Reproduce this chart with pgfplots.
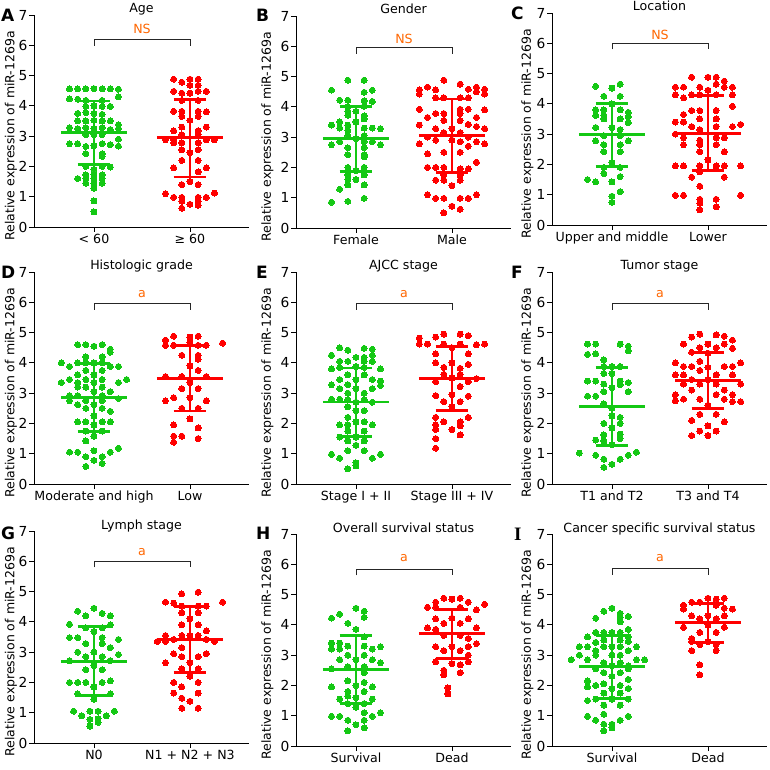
\documentclass[border=0pt]{standalone}
\usepackage{fontspec}
\setmainfont{DejaVu Sans}
\newfontfamily\serifface{Liberation Serif}
\usepackage{pgfplots}
\pgfplotsset{compat=1.18}
\definecolor{dgreen}{RGB}{20,200,20}
\definecolor{dred}{RGB}{255,0,0}
\definecolor{ann}{RGB}{255,102,0}
\newcommand{\tf}{\fontsize{12.6}{14}\selectfont}
\pgfplotsset{
 panel/.style={
  scale only axis, width=215pt, height=212pt,
  xmin=0.375, xmax=2.615, ymin=0, ymax=7,
  axis x line*=bottom, axis y line*=left,
  axis line style={line width=0.9pt},
  xtick={1,2}, ytick={0,1,2,3,4,5,6,7},
  major tick length=5pt, tick align=outside,
  tick style={line width=0.9pt, black},
  /pgf/number format/assume math mode=true,
  yticklabel style={font=\fontsize{13.8}{14}\selectfont, inner sep=1.5pt},
  xticklabel style={font=\tf, inner sep=2pt},
  clip=false, anchor=south west,
 },
 gd/.style={only marks, mark=*, mark size=3.0pt, color=dgreen, mark options={draw=dgreen, fill=dgreen, line width=0pt}},
 rd/.style={only marks, mark=*, mark size=3.0pt, color=dred, mark options={draw=dred, fill=dred, line width=0pt}},
}
\newcommand{\gmsd}[3]{%
 \addplot[dgreen, line width=2.8pt, forget plot] coordinates {(0.656,#1) (1.344,#1)};
 \addplot[dgreen, line width=2.8pt, forget plot] coordinates {(1,#2) (1,#3)};
 \addplot[dgreen, line width=2.8pt, forget plot] coordinates {(0.83,#2) (1.17,#2)};
 \addplot[dgreen, line width=2.8pt, forget plot] coordinates {(0.83,#3) (1.17,#3)};
}
\newcommand{\rmsd}[3]{%
 \addplot[dred, line width=2.8pt, forget plot] coordinates {(1.656,#1) (2.344,#1)};
 \addplot[dred, line width=2.8pt, forget plot] coordinates {(2,#2) (2,#3)};
 \addplot[dred, line width=2.8pt, forget plot] coordinates {(1.83,#2) (2.17,#2)};
 \addplot[dred, line width=2.8pt, forget plot] coordinates {(1.83,#3) (2.17,#3)};
}
\newcommand{\brk}[4]{%
 \draw[line width=0.9pt, black!85] (axis cs:1,#2) -- (axis cs:1,#1) -- (axis cs:2,#1) -- (axis cs:2,#2);
 \node[text=ann, font=\tf, inner sep=0pt] at (axis cs:1.5,#3) {#4};
}
\begin{document}
\begin{tikzpicture}[x=1pt,y=1pt]
\useasboundingbox (0,0) rectangle (770,769);
% ---------------- A
\begin{axis}[panel, at={(34pt,542pt)}, xticklabels={{< 60},{≥ 60}}]
\addplot[gd] table[x expr=1+0.085*\thisrow{k}, y=y, row sep=\\]{k y\\
-3 4.56\\ -2 4.56\\ -1 4.56\\ 0 4.57\\ 1 4.56\\ 2 4.56\\ 3 4.55\\
-3 4.23\\ -2 4.22\\ -1 4.18\\ 1 4.18\\ 3 4.3\\
-1 3.98\\ 0 4.0\\ 1 3.98\\ 2 3.98\\
-2 3.75\\ -1 3.78\\ 0 3.75\\ 1 3.72\\
-2 3.5\\ -1 3.5\\ 0 3.52\\ 1 3.5\\ 2 3.5\\ 3 3.38\\
-3 3.28\\ -2 3.25\\ -1 3.28\\ 0 3.25\\ 1 3.28\\ 2 3.22\\ 3 3.25\\
-1 3.05\\ 0 3.05\\ 1 3.05\\ 3 2.9\\
-3 2.75\\ -2 2.75\\ 1 2.75\\ 2 2.72\\ -1 2.66\\ 0 2.68\\ 3 2.67\\
-1 2.42\\ 1 2.42\\ 1 2.33\\ -1 2.0\\ 1 2.0\\ 2 1.98\\ 0 1.9\\
-1 1.72\\ 0 1.72\\ 1 1.72\\ -2 1.6\\ -1 1.6\\ 0 1.6\\ 1 1.6\\
-1 1.45\\ 0 1.45\\ 1 1.45\\ 0 1.28\\ 0 0.86\\ 0 0.5\\
};
\addplot[rd] table[x expr=2+0.085*\thisrow{k}, y=y, row sep=\\]{k y\\
-2 4.88\\ 0 4.88\\ 1 4.88\\ -1 4.78\\ 0 4.68\\ 1 4.68\\ -2 4.48\\ 1 4.48\\ 2 4.48\\ -1 4.42\\ 0 4.42\\ -1 4.18\\ 1 4.18\\
-2 3.82\\ -1 3.82\\ 1 3.82\\ 2 3.8\\ -1 3.65\\ 1 3.65\\ 0 3.52\\ -1 3.3\\ 2 3.3\\ -2 3.18\\ 1 3.18\\ -1 3.05\\ 1 3.05\\
-3 2.88\\ -2 2.88\\ 2 2.88\\ 3 2.88\\ -2 2.78\\ -1 2.78\\ 1 2.78\\ -1 2.55\\ 1 2.55\\ 0 2.45\\ -1 2.2\\ 1 2.2\\
-2 1.95\\ 2 1.95\\ 1 1.82\\ 0 1.5\\ -1 1.4\\ 1 1.4\\ -3 1.1\\ 3 1.12\\ -2 0.98\\ -1 0.98\\ 1 0.98\\ 2 0.98\\
-1 0.85\\ 1 0.85\\ 0 0.75\\ 1 0.72\\ -1 0.62\\
};
\gmsd{3.11}{2.07}{4.16}
\rmsd{2.95}{1.65}{4.21}
\brk{6.19}{5.99}{6.55}{NS}
\end{axis}
% ---------------- B
\begin{axis}[panel, at={(296pt,541pt)}, xticklabels={Female,Male}]
\addplot[gd] table[x expr=1+0.085*\thisrow{k}, y=y, row sep=\\]{k y\\
-1 4.88\\ 1 4.88\\ -3 4.55\\ 2 4.55\\ 1 4.48\\ -2 4.22\\ -1 4.22\\ 1 4.2\\ 2 4.18\\ -1 4.0\\ 1 4.02\\
-1 3.85\\ 0 3.85\\ -1 3.72\\ 1 3.7\\ 1 3.6\\ -2 3.5\\ 0 3.5\\ -3 3.4\\ -1 3.4\\
-2 3.3\\ 1 3.3\\ 2 3.3\\ 3 3.28\\ -1 3.22\\ -1 3.05\\ 1 3.05\\ 0 2.95\\ -2 2.85\\ 1 2.85\\ 2 2.85\\
-3 2.75\\ 3 2.75\\ -1 2.65\\ 1 2.65\\ -1 2.42\\ 1 2.42\\ 1 2.35\\ -1 2.0\\ 1 2.0\\ 0 1.9\\ -1 1.75\\ 1 1.75\\ -1 1.6\\ 0 1.6\\
-1 1.42\\ 1 1.42\\ -2 1.28\\ 1 0.98\\ -1 0.88\\ -3 0.85\\
};
\addplot[rd] table[x expr=2+0.085*\thisrow{k}, y=y, row sep=\\]{k y\\
-1 4.88\\ 1 4.75\\ -3 4.65\\ 3 4.65\\ -4 4.56\\ -2 4.56\\ 2 4.58\\ 4 4.58\\ 3 4.5\\ -4 4.42\\ 4 4.42\\
-2 4.3\\ -1 4.3\\ 1 4.3\\ 2 4.3\\ -4 3.92\\ 1 3.92\\ 2 3.92\\ 4 3.9\\ -2 3.78\\ -1 3.78\\ 1 3.78\\
-3 3.65\\ 3 3.65\\ -1 3.55\\ 1 3.55\\ -4 3.4\\ 2 3.42\\ 3 3.35\\ -2 3.28\\ 0 3.28\\ 4 3.28\\ -1 3.15\\ 1 3.15\\
-3 3.0\\ 2 3.0\\ -2 2.9\\ 0 2.9\\ 1 2.85\\ 3 2.85\\ -4 2.78\\ 4 2.78\\ 2 2.7\\ -1 2.5\\ 1 2.5\\ -3 2.45\\
3 2.17\\ -3 2.0\\ -2 2.0\\ -1 2.0\\ 1 1.95\\ 2 1.95\\ -1 1.75\\ 1 1.75\\ -2 1.58\\ -1 1.58\\ 1 1.58\\ 0 1.4\\
-3 1.1\\ 3 1.1\\ -2 0.98\\ -1 0.98\\ 1 0.98\\ 2 0.98\\ 0 0.72\\ 1 0.62\\ -1 0.5\\
};
\gmsd{2.95}{1.86}{4.02}
\rmsd{3.05}{1.84}{4.26}
\brk{5.96}{5.76}{6.25}{NS}
\end{axis}
% ---------------- C
\begin{axis}[panel, at={(552pt,544pt)}, xticklabels={Upper and middle,Lower}]
\addplot[gd] table[x expr=1+0.085*\thisrow{k}, y=y, row sep=\\]{k y\\
1 4.65\\ -2 4.58\\ 0 4.52\\ -1 4.25\\ 1 4.25\\ 0 4.0\\ -2 3.8\\ -1 3.8\\ 1 3.8\\ 2 3.72\\ -2 3.62\\ -1 3.5\\ 1 3.5\\ 2 3.38\\
-2 3.22\\ 0 3.22\\ 1 3.15\\ -1 2.95\\ 1 2.95\\ -2 2.78\\ 2 2.78\\ -1 2.65\\ 1 2.65\\ -1 2.42\\ 1 2.42\\ 0 2.05\\
-1 1.9\\ 1 1.9\\ -1 1.7\\ 1 1.6\\ -3 1.5\\ -2 1.42\\ 0 1.42\\ 1 1.1\\ 0 0.95\\ 0 0.75\\ 2 3.58\\ -1 3.62\\
};
\addplot[rd] table[x expr=2+0.085*\thisrow{k}, y=y, row sep=\\]{k y\\
-2 4.88\\ 0 4.88\\ 1 4.88\\ 2 4.75\\ 1 4.65\\ -4 4.55\\ -3 4.55\\ -1 4.55\\ 2 4.55\\ 3 4.55\\ 0 4.45\\
-4 4.3\\ -2 4.3\\ -1 4.3\\ 1 4.3\\ 3 4.3\\ -3 4.2\\ 3 3.92\\ -2 3.78\\ -1 3.78\\ 1 3.78\\ -3 3.65\\
-1 3.5\\ 1 3.5\\ -4 3.4\\ -3 3.4\\ 4 3.32\\ -2 3.25\\ 1 3.25\\ 3 3.25\\ -1 3.15\\ -4 3.0\\
-3 2.88\\ 1 2.88\\ 2 2.88\\ -1 2.8\\ -3 2.65\\ -1 2.65\\ 1 2.65\\ -1 2.42\\ 2 2.42\\ 0 2.15\\
-4 1.95\\ -3 1.95\\ -1 1.95\\ 1 1.95\\ 2 1.95\\ 4 1.95\\ -1 1.75\\ -2 1.58\\ 2 1.58\\ -1 1.28\\
-4 0.98\\ -3 0.98\\ 4 0.98\\ -1 0.85\\ 1 0.85\\ -1 0.72\\ 1 0.6\\ -1 0.5\\
};
\gmsd{2.98}{1.93}{4.02}
\rmsd{3.03}{1.80}{4.27}
\brk{6.0}{5.8}{6.27}{NS}
\end{axis}
% ---------------- D
\begin{axis}[panel, at={(34pt,285pt)}, xticklabels={Moderate and high,Low}]
\addplot[gd] table[x expr=1+0.085*\thisrow{k}, y=y, row sep=\\]{k y\\
-2 4.6\\ -1 4.6\\ 1 4.6\\ 0 4.55\\ 2 4.45\\ 2 4.35\\ -1 4.2\\ 1 4.2\\
-4 4.0\\ -2 4.0\\ -1 4.0\\ 0 4.0\\ 1 4.0\\ -3 3.88\\ 2 3.88\\ 3 3.88\\ -1 3.75\\ 1 3.75\\ -2 3.6\\ 0 3.6\\
-3 3.45\\ -1 3.45\\ 1 3.45\\ 4 3.45\\ -4 3.35\\ -2 3.35\\ 0 3.35\\ 3 3.35\\ -2 3.2\\ -1 3.2\\ 1 3.2\\
0 3.05\\ 2 3.05\\ -3 2.92\\ -2 2.92\\ 1 2.92\\ 3 2.82\\ -3 2.75\\ -1 2.75\\ 1 2.75\\ -2 2.62\\ 0 2.62\\
-1 2.5\\ 1 2.5\\ 2 2.4\\ 0 2.25\\ -2 2.05\\ -1 2.05\\ 1 2.05\\ 2 2.05\\ 0 1.95\\ -1 1.75\\ 1 1.75\\
0 1.58\\ -1 1.42\\ 3 1.18\\ 0 1.1\\ -3 1.05\\ -2 1.05\\ 2 1.05\\ -1 0.9\\ 1 0.9\\ 0 0.78\\ 1 0.68\\ -1 0.58\\
};
\addplot[rd] table[x expr=2+0.085*\thisrow{k}, y=y, row sep=\\]{k y\\
-2 4.88\\ 1 4.88\\ 0 4.85\\ -3 4.75\\ 0 4.68\\ 4 4.65\\ -3 4.58\\ -2 4.58\\ 1 4.58\\ 2 4.58\\
-1 4.25\\ 1 4.25\\ 1 4.12\\ 0 3.9\\ 1 3.75\\ -3 3.55\\ -1 3.55\\ 2 3.55\\ 0 3.35\\ -1 3.15\\ 1 3.15\\
-2 2.85\\ 0 2.85\\ -3 2.75\\ 2 2.75\\ -1 2.5\\ 1 2.5\\ 0 2.15\\ -2 1.95\\ 1 1.85\\ -2 1.58\\ -1 1.58\\ 1 1.5\\ -2 1.38\\
};
\gmsd{2.85}{1.73}{3.97}
\rmsd{3.49}{2.41}{4.58}
\brk{5.96}{5.76}{6.27}{a}
\end{axis}
% ---------------- E
\begin{axis}[panel, at={(296pt,285pt)}, xticklabels={Stage I + II,Stage III + IV}]
\addplot[gd] table[x expr=1+0.085*\thisrow{k}, y=y, row sep=\\]{k y\\
-2 4.5\\ 1 4.48\\ -1 4.42\\ 2 4.45\\ -3 4.25\\ 2 4.25\\ 0 4.18\\ 1 4.18\\ -2 4.05\\ -1 4.05\\ 1 4.05\\ 2 4.05\\
-2 3.85\\ 0 3.88\\ 1 3.85\\ -3 3.8\\ 3 3.8\\ -1 3.6\\ 1 3.6\\ -2 3.45\\ 0 3.45\\ 2 3.45\\ 3 3.4\\
-3 3.28\\ -1 3.28\\ 3 3.25\\ -2 3.15\\ 0 3.15\\ 2 3.15\\ -1 3.0\\ 1 3.0\\ -3 2.8\\ -2 2.8\\ -1 2.78\\ 1 2.78\\
0 2.7\\ 2 2.7\\ -1 2.55\\ 0 2.42\\ 1 2.42\\ -1 2.2\\ 0 2.05\\ 1 2.05\\ -2 1.95\\ -1 1.95\\ 2 1.95\\
-1 1.75\\ 1 1.75\\ -2 1.55\\ 0 1.55\\ -1 1.42\\ 1 1.42\\ 0 1.28\\ -1 1.1\\ 1 1.1\\ -3 0.98\\ 3 0.98\\
-2 0.85\\ 2 0.85\\ 0 0.7\\ -1 0.5\\ 0 0.6\\
};
\addplot[rd] table[x expr=2+0.085*\thisrow{k}, y=y, row sep=\\]{k y\\
-1 4.95\\ 1 4.95\\ -2 4.85\\ 2 4.9\\ -4 4.82\\ -4 4.62\\ -3 4.62\\ -1 4.62\\ 1 4.62\\ 3 4.6\\ 4 4.62\\ 0 4.5\\
-2 4.3\\ 2 4.3\\ -2 4.0\\ 0 4.0\\ 2 3.95\\ -1 3.85\\ 1 3.82\\ -1 3.62\\ 1 3.62\\ 0 3.5\\ 3 3.48\\
-2 3.38\\ 2 3.38\\ 1 3.22\\ -2 2.92\\ 0 2.95\\ 2 2.9\\ -1 2.72\\ 1 2.72\\ 0 2.55\\ -2 2.2\\ 2 2.2\\
-1 2.05\\ 1 2.05\\ -2 1.95\\ 1 1.92\\ -2 1.8\\ 0 1.8\\ 1 1.62\\ -2 1.5\\ -2 1.18\\
};
\gmsd{2.71}{1.56}{3.83}
\rmsd{3.48}{2.42}{4.55}
\brk{5.95}{5.75}{6.27}{a}
\end{axis}
% ---------------- F
\begin{axis}[panel, at={(552pt,285pt)}, xticklabels={T1 and T2,T3 and T4}]
\addplot[gd] table[x expr=1+0.085*\thisrow{k}, y=y, row sep=\\]{k y\\
-3 4.62\\ -2 4.62\\ 1 4.62\\ 2 4.55\\ 2 4.4\\ -3 4.28\\ -2 4.3\\ -1 4.1\\ -1 3.88\\ 0 3.88\\ 1 3.88\\
-1 3.65\\ 0 3.65\\ -3 3.4\\ -2 3.4\\ 1 3.4\\ 2 3.35\\ -1 3.3\\ 1 3.28\\ 0 3.18\\ -1 3.05\\ 2 3.05\\
-3 2.9\\ -2 2.9\\ -1 2.65\\ 0 2.5\\ 0 2.25\\ -1 2.0\\ 0 1.85\\ -1 1.62\\ 1 1.65\\ 1 1.5\\
-2 1.45\\ -1 1.42\\ 0 1.3\\ -4 1.02\\ 3 1.05\\ -2 0.95\\ 2 0.95\\ -1 0.82\\ 1 0.82\\ 0 0.65\\ -1 0.55\\ 1 2.0\\ 1 2.2\\
};
\addplot[rd] table[x expr=2+0.085*\thisrow{k}, y=y, row sep=\\]{k y\\
-1 4.95\\ 1 4.92\\ -2 4.85\\ 2 4.88\\ 3 4.75\\ -3 4.62\\ 0 4.62\\ 2 4.62\\ -1 4.5\\ 1 4.5\\ 3 4.48\\
-2 4.35\\ 0 4.32\\ -4 4.0\\ -1 4.05\\ 4 4.0\\ -3 3.88\\ -2 3.88\\ 2 3.88\\ 3 3.88\\ 0 3.85\\ -1 3.75\\
-4 3.6\\ -3 3.6\\ 1 3.6\\ 3 3.6\\ -2 3.45\\ 0 3.45\\ -3 3.3\\ -1 3.3\\ 1 3.3\\ 4 3.3\\ -2 3.1\\ 2 3.1\\
-4 2.95\\ 1 2.95\\ 3 2.95\\ -3 2.8\\ -1 2.8\\ 2 2.8\\ 3 2.72\\ 4 2.72\\ -4 2.75\\ 0 2.6\\ -1 2.3\\ 1 2.3\\
-2 2.1\\ 2 2.05\\ 0 1.92\\ -1 1.75\\ 1 1.75\\ -2 1.6\\ 0 1.6\\
};
\gmsd{2.55}{1.27}{3.84}
\rmsd{3.42}{2.49}{4.35}
\brk{5.95}{5.75}{6.27}{a}
\end{axis}
% ---------------- G
\begin{axis}[panel, at={(34pt,26pt)}, xticklabels={N0,N1 + N2 + N3}]
\addplot[gd] table[x expr=1+0.085*\thisrow{k}, y=y, row sep=\\]{k y\\
0 4.45\\ -2 4.35\\ 1 4.28\\ -1 4.2\\ 2 4.2\\ -3 3.92\\ 2 3.9\\ -1 3.8\\ 1 3.8\\ 0 3.68\\ -3 3.48\\ -2 3.48\\ 1 3.48\\ 3 3.42\\
-1 3.28\\ 1 3.28\\ 2 3.15\\ -2 3.0\\ 0 3.0\\ 3 2.92\\ -1 2.85\\ 1 2.85\\ -3 2.72\\ 2 2.72\\ 0 2.55\\
-1 2.42\\ 1 2.42\\ 2 2.05\\ -3 2.0\\ -2 2.0\\ -1 2.0\\ 1 2.0\\ 0 1.85\\ -2 1.62\\ 2 1.62\\ 0 1.45\\
-2.5 1.05\\ -0.5 1.05\\ 0.5 1.05\\ 2.5 1.05\\ -1.5 0.9\\ 1.5 0.9\\ -0.5 0.78\\ 0.5 0.8\\ 0.5 0.68\\ -0.5 0.56\\
};
\addplot[rd] table[x expr=2+0.085*\thisrow{k}, y=y, row sep=\\]{k y\\
1 4.98\\ -1 4.92\\ -3 4.65\\ 4 4.65\\ -2 4.62\\ -1 4.52\\ 1 4.52\\ 2 4.52\\ -1 4.3\\ 1 4.3\\ 0 4.1\\ -1 3.9\\ 1 3.9\\ 2 3.7\\
-3 3.55\\ -1 3.55\\ 0 3.55\\ 1 3.55\\ -2 3.42\\ 2 3.42\\ -4 3.35\\ -3 3.35\\ 3 3.35\\ -1 3.15\\ -2 2.95\\ 2 2.95\\
-1 2.85\\ 1 2.85\\ -3 2.65\\ 0 2.65\\ -1 2.45\\ 1 2.45\\ 0 2.2\\ -2 2.0\\ 1 2.0\\ -1 1.85\\ -2 1.65\\ 1 1.65\\ -1 1.48\\ 0 1.38\\ -1 1.15\\ 1 1.15\\
};
\gmsd{2.69}{1.57}{3.84}
\rmsd{3.42}{2.34}{4.50}
\brk{6.0}{5.8}{6.3}{a}
\end{axis}
% ---------------- H
\begin{axis}[panel, at={(296pt,23pt)}, xticklabels={Survival,Dead}]
\addplot[gd] table[x expr=1+0.085*\thisrow{k}, y=y, row sep=\\]{k y\\
0 4.55\\ 1 4.45\\ -2 4.35\\ -3 4.22\\ 1 4.25\\ -1 4.05\\ 0 3.85\\ 1 3.6\\ -3 3.4\\ -2 3.4\\ -1 3.3\\ 1 3.3\\ 3 3.28\\
-3 3.2\\ -2 3.2\\ 2 3.2\\ -1 3.0\\ 1 3.0\\ -2 2.85\\ 0 2.85\\ 2 2.85\\ 3 2.75\\ -1 2.62\\ 1 2.62\\ -3 2.55\\
1 2.42\\ -1 2.15\\ 0 2.0\\ -3 1.95\\ 2 1.95\\ -1 1.8\\ 1 1.8\\ 0 1.6\\ -2 1.55\\ 2 1.55\\ -1 1.4\\ 1 1.4\\ 0 1.28\\
1 1.1\\ 3 1.1\\ -3 0.98\\ -2 0.98\\ 2 0.98\\ -1 0.85\\ 1 0.85\\ 0 0.7\\ 1 0.6\\ -1 0.5\\ 1 2.1\\ -1 1.65\\
};
\addplot[rd] table[x expr=2+0.085*\thisrow{k}, y=y, row sep=\\]{k y\\
-1 4.88\\ 1 4.88\\ 0 4.85\\ -2 4.75\\ 2 4.75\\ 4 4.68\\ -3 4.58\\ -2 4.58\\ 1 4.58\\ 3 4.5\\
-2 4.2\\ 0 4.22\\ 2 4.2\\ -1 4.05\\ 1 4.05\\ -3 3.9\\ 3 3.9\\ -2 3.85\\ -1 3.65\\ 1 3.65\\ 2 3.55\\
3 3.38\\ -2 3.28\\ 0 3.28\\ 2 3.28\\ -1 3.15\\ 1 3.15\\ -2 2.78\\ 2 2.78\\ 0 2.72\\ 1 2.68\\ -1 2.5\\ 1 2.42\\
-1 2.35\\ -0.5 1.92\\ -0.5 1.72\\ 2 3.0\\
};
\gmsd{2.53}{1.41}{3.65}
\rmsd{3.71}{2.89}{4.52}
\brk{5.83}{5.63}{6.19}{a}
\end{axis}
% ---------------- I
\begin{axis}[panel, at={(552pt,23pt)}, xticklabels={Survival,Dead}]
\addplot[gd] table[x expr=1+0.085*\thisrow{k}, y=y, row sep=\\]{k y\\
0 4.55\\ -1 4.45\\ 1 4.38\\ 2 4.28\\ -2 4.22\\ 1 4.1\\ 2 3.85\\ -2 3.75\\ -1 3.75\\ 0 3.75\\ 1 3.75\\ -3 3.6\\ 2 3.6\\
-1 3.5\\ 1 3.5\\ -4 3.28\\ -3 3.28\\ -1 3.28\\ 0 3.28\\ 1 3.28\\ 3 3.28\\ -2 3.15\\ 2 3.15\\
-4 3.0\\ -2 3.0\\ 0 3.0\\ 1 3.0\\ -5 2.85\\ -3 2.85\\ 3 2.85\\ 4 2.85\\ -1 2.75\\ 1 2.75\\ 0 2.65\\ 2 2.65\\
-2 2.55\\ 2 2.55\\ -1 2.42\\ 1 2.42\\ 0 2.3\\ -3 2.15\\ 2 2.2\\ -2 2.0\\ 1 2.0\\ 0 1.9\\ 2 1.9\\ -1 1.75\\ 1 1.75\\
-2 1.55\\ 0 1.55\\ 2 1.55\\ -3 1.5\\ -1 1.35\\ 1 1.35\\ -1 1.05\\ -3 0.98\\ 2 0.98\\ -2 0.85\\ 1 0.85\\ -1 0.72\\ 0 0.72\\ 0 0.6\\ -1 0.5\\
-3 1.95\\ -1 2.05\\ 2 3.45\\ -2 3.42\\ 1 4.25\\
};
\addplot[rd] table[x expr=2+0.085*\thisrow{k}, y=y, row sep=\\]{k y\\
0 4.88\\ 2 4.88\\ 1 4.85\\ -2 4.75\\ -1 4.75\\ -3 4.65\\ 1 4.65\\ -3 4.52\\ 2 4.55\\ 3 4.52\\
-2 4.3\\ 0 4.3\\ 2 4.3\\ -1 4.2\\ 1 4.2\\ 0 4.0\\ -3 3.92\\ 2 3.92\\ -1 3.75\\ 1 3.75\\ -2 3.55\\ -2 3.45\\ 0 3.45\\
-1 3.35\\ 1 3.35\\ -2 3.15\\ 1 3.15\\ -1 2.68\\ -1 2.35\\
};
\gmsd{2.62}{1.56}{3.66}
\rmsd{4.07}{3.42}{4.71}
\brk{5.86}{5.66}{6.19}{a}
\end{axis}
% ---------------- titles, letters, y labels
\foreach \x/\y/\t in {141.5/756/Age, 403.5/755/Gender, 659.5/758/Location,
  141.5/499/Histologic grade, 403.5/499/AJCC stage, 659.5/499/Tumor stage,
  141.5/240/Lymph stage, 403.5/237/Overall survival status, 659.5/237/Cancer specific survival status}
  {\node[anchor=base, inner sep=0pt, font=\tf] at (\x,\y) {\t};}
\foreach \x/\y/\t in {1/754/A, 256/754/B, 511/756/C, 1/497/D, 256/497/E, 511/497/F, 1/236/G, 256/236/H}
  {\node[anchor=west, inner sep=0pt, font=\fontsize{17}{18}\bfseries] at (\x,\y) {\t};}
\node[anchor=west, inner sep=0pt, font=\fontsize{19}{20}\bfseries\serifface] at (514,235) {I};
\foreach \x/\y in {11/633, 267.5/632, 527.5/635, 11/376, 267.5/376, 527.5/376, 11/117, 267.5/114, 527.5/114}
  {\node[rotate=90, inner sep=0pt, font=\fontsize{12.5}{14}\selectfont] at (\x,\y) {Relative expression of miR-1269a};}
\end{tikzpicture}
\end{document}
